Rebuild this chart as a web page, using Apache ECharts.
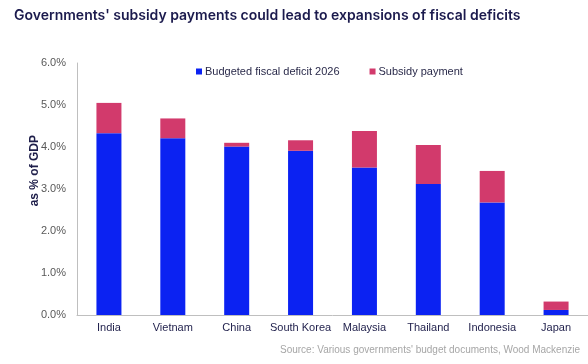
<!DOCTYPE html>
<html>
<head>
<meta charset="utf-8">
<script src="https://cdn.jsdelivr.net/npm/echarts@6/dist/echarts.min.js"></script>
<style>
html,body{margin:0;padding:0;background:#fff;}
#c{width:588px;height:364px;}
</style>
</head>
<body>
<div id="c"></div>
<script>
const categories = ["India","Vietnam","China","South Korea","Malaysia","Thailand","Indonesia","Japan"];
const budgetedDeficit = [4.33,4.21,4.01,3.91,3.51,3.12,2.68,0.12];
const subsidyPayment = [0.72,0.47,0.09,0.25,0.87,0.93,0.75,0.20];
const yTicks = [0,1,2,3,4,5,6];

const chart = echarts.init(document.getElementById('c'), null, {renderer:'canvas'});
chart.setOption({
  animation:false,
  backgroundColor:'#fff',
  title:{
    text:"Governments' subsidy payments could lead to expansions of fiscal deficits",
    left:9, top:4,
    textStyle:{fontFamily:'Inter', fontWeight:600, fontSize:14, color:'#1b1a4d'}
  },
  legend:{
    top:61, left:191,
    itemWidth:6, itemHeight:6, itemGap:30,
    icon:'rect',
    textStyle:{fontFamily:'Liberation Sans', fontSize:11, color:'#2a2a4a', padding:[0,0,0,-2]},
    data:['Budgeted fiscal deficit 2026','Subsidy payment']
  },
  grid:{left:77, top:63, width:516, height:252, containLabel:false},
  xAxis:{
    type:'category', data:categories,
    axisLine:{show:true, lineStyle:{color:'#bfbfbf', width:1}},
    axisTick:{show:false},
    axisLabel:{interval:0, fontFamily:'Liberation Sans', fontSize:11, color:'#1e1e4a', margin:7}
  },
  yAxis:{
    type:'value', min:0, max:6, interval:1,
    axisLine:{show:true, lineStyle:{color:'#bfbfbf', width:1}},
    axisTick:{show:false},
    splitLine:{show:false},
    axisLabel:{fontFamily:'Liberation Sans', fontSize:11, color:'#595959', margin:11,
      formatter:v=>v.toFixed(1)+'%'}
  },
  graphic:[
    {type:'text', left:29, top:135, rotation:Math.PI/2,
     style:{text:'as % of GDP', fontFamily:'Liberation Sans', fontWeight:'bold', fontSize:12, fill:'#1e1e4a'}},
    {type:'text', right:8, top:345,
     style:{text:"Source: Various governments' budget documents, Wood Mackenzie", fontFamily:'Liberation Sans', fontSize:10, fill:'#a6a6a6'}}
  ],
  series:[
    {name:'Budgeted fiscal deficit 2026', type:'bar', stack:'a', barWidth:25, data:budgetedDeficit,
     itemStyle:{color:'#0b22f2'}},
    {name:'Subsidy payment', type:'bar', stack:'a', barWidth:25, data:subsidyPayment,
     itemStyle:{color:'#d23a6c'}}
  ]
});
</script>
</body>
</html>
